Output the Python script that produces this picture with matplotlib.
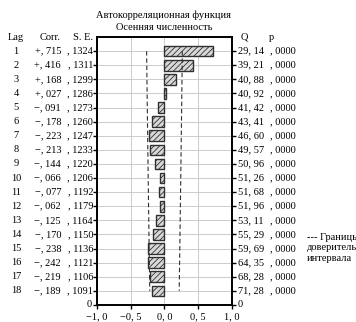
import matplotlib.pyplot as plt
import numpy as np

lags = list(range(1, 19))
corr = [0.715, 0.416, 0.168, 0.027, -0.091, -0.178, -0.223, -0.213, -0.144,
        -0.066, -0.077, -0.062, -0.125, -0.170, -0.238, -0.242, -0.219, -0.189]
se = [0.1324, 0.1311, 0.1299, 0.1286, 0.1273, 0.1260, 0.1247, 0.1233, 0.1220,
      0.1206, 0.1192, 0.1179, 0.1164, 0.1150, 0.1136, 0.1121, 0.1106, 0.1091]
q = [29.14, 39.21, 40.88, 40.92, 41.42, 43.41, 46.60, 49.57, 50.96,
     51.26, 51.68, 51.96, 53.11, 55.29, 59.69, 64.35, 68.28, 71.28]
p = [0.0, 0.0, 0.0, 0.0, 0.0, 0.0, 0.0, 0.0, 0.0,
     0.0, 0.0, 0.0, 0.0, 0.0, 0.0, 0.0, 0.0, 0.0]
xticks = [-1.0, -0.5, 0.0, 0.5, 1.0]

plt.rcParams['font.family'] = ['Liberation Serif', 'DejaVu Serif']
plt.rcParams['hatch.color'] = '#8a8a8a'
plt.rcParams['hatch.linewidth'] = 0.6
fs = 7.5

fig = plt.figure(figsize=(3.56, 3.22), dpi=100)
ax = fig.add_axes([0.2725, 0.053, 0.379, 0.832])

ax.barh(lags, corr, height=0.75, color='#d8d8d8', edgecolor='#303030',
        hatch='//////', linewidth=1.0, zorder=3)

lim = [2 * s for s in se]
ax.plot([-v for v in lim], lags, ls=(0, (4, 2.5)), color='#303030', lw=0.8, zorder=4)
ax.plot(lim, lags, ls=(0, (4, 2.5)), color='#303030', lw=0.8, zorder=4)

ax.set_xlim(-1, 1)
ax.set_ylim(19, 0)
ax.set_xticks(xticks)
ax.set_xticklabels([f"{v:.1f}".replace('-', '−').replace('.', ', ') for v in xticks],
                   fontsize=fs)
ax.set_yticks(lags + [19])
ax.set_yticklabels([])
ax.tick_params(axis='y', which='both', left=True, right=True, length=3,
               width=1.0, direction='out')
ax.tick_params(axis='x', length=3, width=1.0, direction='out', pad=2)
ax.grid(True, color='#cccccc', lw=0.7, zorder=0)
for sp in ax.spines.values():
    sp.set_linewidth(1.4)

tr = ax.get_yaxis_transform()
def px(x):
    return (x - 97) / 135.0

# columns of the table
ax.text(px(16), 0, 'Lag', transform=tr, ha='center', va='center', fontsize=fs)
ax.text(px(50), 0, 'Corr.', transform=tr, ha='center', va='center', fontsize=fs)
ax.text(px(83), 0, 'S. E.', transform=tr, ha='center', va='center', fontsize=fs)
ax.text(px(244), 0, 'Q', transform=tr, ha='center', va='center', fontsize=fs)
ax.text(px(271), 0, 'p', transform=tr, ha='center', va='center', fontsize=fs)
for i, lag in enumerate(lags):
    c = corr[i]
    sign = '+' if c >= 0 else '−'
    ax.text(px(16), lag, str(lag), transform=tr, ha='center', va='center', fontsize=fs)
    ax.text(px(61), lag, f"{sign}, {abs(c) * 1000:03.0f}", transform=tr,
            ha='right', va='center', fontsize=fs)
    ax.text(px(93), lag, f", {se[i] * 10000:04.0f}", transform=tr,
            ha='right', va='center', fontsize=fs)
    ax.text(px(238), lag, f"{q[i]:.2f}".replace('.', ', '), transform=tr,
            ha='left', va='center', fontsize=fs)
    ax.text(px(270), lag, f", {p[i] * 10000:04.0f}", transform=tr,
            ha='left', va='center', fontsize=fs)
ax.text(px(92), 19, '0', transform=tr, ha='right', va='center', fontsize=fs)
ax.text(px(238), 19, '0', transform=tr, ha='left', va='center', fontsize=fs)

fig.text(0.46, 0.953, 'Автокорреляционная функция', ha='center', va='center', fontsize=fs)
fig.text(0.46, 0.916, 'Осенняя численность', ha='center', va='center', fontsize=fs)
fig.text(307 / 356, 1 - 248 / 322, '--- Границы\nдоверительного\nинтервала',
         ha='left', va='center', fontsize=fs, linespacing=1.2)

fig.savefig('out.png', dpi=100)
